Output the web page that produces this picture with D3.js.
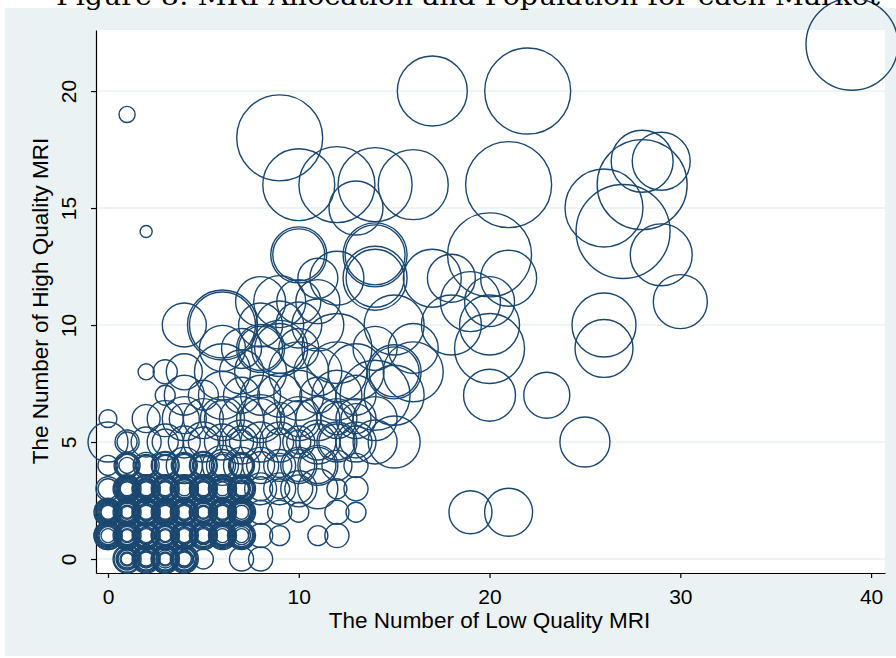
<!DOCTYPE html>
<html>
<head>
<meta charset="utf-8">
<script src="https://cdn.jsdelivr.net/npm/d3@7"></script>
<style>
  body { margin: 0; background: #fff; }
  svg { display: block; }
</style>
</head>
<body>
<script>
// Markets: low quality MRI count, high quality MRI count, population (thousands).
// Grouped by row of the chart so the three lists line up.
var lowQuality = [
  39,1,2,17,22,9,10,12,14,16,13,21,26,27,28,29,28,29,30,26,26,21,20,20,19,20,20,18,18,17,16,20,23,25,19,21,
  10,10,14,14,11,12,14,14,8,9,10,11,
  4,6,6,8,9,10,11,15,
  6,7,8,8,9,9,10,12,14,
  2,3,4,6,7,8,10,11,12,13,15,15,16,
  3,4,5,6,7,8,9,10,12,13,14,15,11,
  0,2,3,4,5,6,7,8,9,11,13,13,14,10,12,
  0,1,1,2,3,4,5,6,7,8,9,10,10,11,12,14,15,13,7,
  0,1,2,3,4,5,6,7,8,9,10,11,11,12,13,1,3,5,7,
  0,0,1,1,1,2,2,2,3,3,4,4,5,5,6,6,7,7,8,9,10,13,12,
  0,0,0,1,1,1,2,2,2,3,3,3,4,4,5,5,5,6,6,7,7,8,9,10,12,13,
  0,0,0,1,1,1,2,2,3,3,3,4,4,5,5,6,6,7,8,9,11,12,
  1,1,2,2,3,3,3,4,4,5,7,8,
  // dense small markets
  1,1,1,2,2,2,3,3,3,4,4,4,
  0,0,0,1,1,1,2,2,2,3,3,3,4,4,4,5,5,5,6,6,6,7,7,7,
  0,0,0,1,1,1,2,2,2,3,3,3,4,4,4,5,5,5,6,6,6,7,7,7,
  1,1,1,2,2,2,3,3,3,4,4,4,5,5,5,6,6,6,7,7,7,
  1,1,2,2,3,3,4,4,5,5,6,6,7,7,
  4,6,8,9,10,3,5,7,9,11,12,13,4,6,8,10,12,8,9,10,11,
  1,1,2,2,3,3,4,4,
  0,0,1,1,2,2,3,3,4,4,5,5,6,6,7,7,
  0,0,1,1,2,2,3,3,4,4,5,5,6,6,7,7,
  1,1,2,2,3,3,4,4,5,5,6,6,7,7
];
var highQuality = [
  22,19,14,20,20,18,16,16,16,16,15,16,15,14,17,17,16,13,11,10,9,12,13,11,11,10,9,10,12,12,9,7,7,5,2,2,
  13,13,13,13,12,12,12,12,11,11,11,11,
  10,10,10,10,10,10,10,10,
  9,9,9,9,9,9,9,9,9,
  8,8,8,8,8,8,8,8,8,8,8,8,8,
  7,7,7,7,7,7,7,7,7,7,7,7,7,
  6,6,6,6,6,6,6,6,6,6,6,6,6,6,6,
  5,5,5,5,5,5,5,5,5,5,5,5,5,5,5,5,5,5,5,
  4,4,4,4,4,4,4,4,4,4,4,4,4,4,4,4,4,4,4,
  3,3,3,3,3,3,3,3,3,3,3,3,3,3,3,3,3,3,3,3,3,3,3,
  2,2,2,2,2,2,2,2,2,2,2,2,2,2,2,2,2,2,2,2,2,2,2,2,2,2,
  1,1,1,1,1,1,1,1,1,1,1,1,1,1,1,1,1,1,1,1,1,1,
  0,0,0,0,0,0,0,0,0,0,0,0,
  0,0,0,0,0,0,0,0,0,0,0,0,
  1,1,1,1,1,1,1,1,1,1,1,1,1,1,1,1,1,1,1,1,1,1,1,1,
  2,2,2,2,2,2,2,2,2,2,2,2,2,2,2,2,2,2,2,2,2,2,2,2,
  3,3,3,3,3,3,3,3,3,3,3,3,3,3,3,3,3,3,3,3,3,
  4,4,4,4,4,4,4,4,4,4,4,4,4,4,
  4,4,4,4,4,5,5,5,5,5,5,5,6,6,6,6,6,3,3,3,3,
  0,0,0,0,0,0,0,0,
  1,1,1,1,1,1,1,1,1,1,1,1,1,1,1,1,
  2,2,2,2,2,2,2,2,2,2,2,2,2,2,2,2,
  3,3,3,3,3,3,3,3,3,3,3,3,3,3
];
var population = [
  8460,260,145,4900,7400,7400,5180,5780,5480,4900,2920,7400,6080,8840,3840,3360,8100,3840,2920,4100,3360,3140,7060,2500,3600,3600,4900,3600,2300,3360,2500,2700,2120,2500,1850,2300,
  3140,2700,4100,3600,1600,2920,4100,3360,2500,2700,1940,1940,
  1940,4900,4360,1940,2300,2120,2700,3600,
  2120,1600,2300,1940,3140,2500,1600,4900,1940,
  260,580,1300,3140,1940,2700,3600,2300,3600,3140,2920,2500,3600,
  400,1600,900,2300,1300,1600,1940,2500,2500,1600,4900,3600,1300,
  320,780,1300,900,1600,1300,1940,1600,1020,1940,1600,900,1940,1300,1020,
  1600,580,400,900,680,1020,900,1300,1020,1600,780,1020,580,1300,1600,1940,2700,1020,580,
  400,580,400,780,580,780,1020,1300,780,580,1020,1600,1300,900,580,260,400,400,580,
  400,580,260,400,580,260,400,780,260,580,400,780,260,580,400,780,260,580,580,400,780,580,400,
  260,400,580,145,400,580,260,580,780,260,400,580,260,580,145,400,780,260,580,400,580,580,580,400,580,400,
  400,580,780,145,400,580,260,580,145,400,780,260,580,260,580,400,580,580,580,400,400,580,
  145,400,260,580,145,580,780,260,580,400,580,580,
  324,484,676,324,484,676,324,484,676,324,484,676,
  324,484,676,324,484,676,324,484,676,324,484,676,324,484,676,324,484,676,324,484,676,324,484,676,
  324,484,676,324,484,676,324,484,676,324,484,676,324,484,676,324,484,676,324,484,676,324,484,676,
  324,484,676,324,484,676,324,484,676,324,484,676,324,484,676,324,484,676,324,484,676,
  484,676,484,676,484,676,484,676,484,676,484,676,484,676,
  1300,1600,1300,1020,1300,1300,1600,1940,1600,1940,1300,1600,1940,1940,2300,1940,1600,1020,1020,1300,1600,
  196,784,196,784,196,784,196,784,
  196,784,196,784,196,784,196,784,196,784,196,784,196,784,196,784,
  196,784,196,784,196,784,196,784,196,784,196,784,196,784,196,784,
  196,784,196,784,196,784,196,784,196,784,196,784,196,784
];
var xTicks = [0, 10, 20, 30, 40];
var yTicks = [0, 5, 10, 15, 20];

var titleText = "Figure 8: MRI Allocation and Population for each Market";
var xTitle = "The Number of Low Quality MRI";
var yTitle = "The Number of High Quality MRI";

var W = 896, H = 658;
var plot = {left: 96, right: 885, top: 30, bottom: 573};
var navy = "#1a476f";

var markets = lowQuality.map(function (d, i) {
    return {low: d, high: highQuality[i], pop: population[i]};
}).sort(function (a, b) { return b.pop - a.pop; });

var x = d3.scaleLinear().domain([-0.629, 40.73]).range([plot.left, plot.right]);
var y = d3.scaleLinear().domain([-0.598, 22.61]).range([plot.bottom, plot.top]);
var r = d3.scaleSqrt().domain([0, d3.max(population)]).range([0, 47]);

var svg = d3.select("body").append("svg")
    .attr("width", W)
    .attr("height", H);

// graph region and plot region
svg.append("rect")
    .attr("x", 5).attr("y", 8)
    .attr("width", W - 5).attr("height", H - 10)
    .attr("fill", "#eaf2f3");

svg.append("rect")
    .attr("x", plot.left).attr("y", plot.top)
    .attr("width", plot.right - plot.left).attr("height", plot.bottom - plot.top)
    .attr("fill", "#fff");

// horizontal grid
svg.append("g")
    .selectAll("line")
    .data(yTicks)
    .enter().append("line")
    .attr("x1", plot.left).attr("x2", plot.right)
    .attr("y1", function (d) { return y(d); })
    .attr("y2", function (d) { return y(d); })
    .attr("stroke", "#e8eff1")
    .attr("stroke-width", 1.6);

// axes
var xAxis = d3.axisBottom(x).tickValues(xTicks).tickSize(5).tickSizeOuter(0);
var yAxis = d3.axisLeft(y).tickValues(yTicks).tickSize(5).tickSizeOuter(0);

var gx = svg.append("g")
    .attr("transform", "translate(0," + plot.bottom + ")")
    .call(xAxis);
gx.selectAll("text")
    .attr("y", 31).attr("dy", 0)
    .style("font-family", "'Liberation Sans', Arial, sans-serif")
    .style("font-size", "21px")
    .attr("fill", "#000");

var gy = svg.append("g")
    .attr("transform", "translate(" + plot.left + ",0)")
    .call(yAxis);
gy.selectAll("text")
    .attr("x", 0).attr("y", -20).attr("dy", 0)
    .attr("transform", "rotate(-90)")
    .style("text-anchor", "middle")
    .style("font-family", "'Liberation Sans', Arial, sans-serif")
    .style("font-size", "21px")
    .attr("fill", "#000");

svg.selectAll(".domain, .tick line")
    .attr("stroke", "#000")
    .attr("stroke-width", 1.2);

// bubbles weighted by population
svg.append("g")
    .selectAll("circle")
    .data(markets)
    .enter().append("circle")
    .attr("cx", function (d) { return x(d.low); })
    .attr("cy", function (d) { return y(d.high); })
    .attr("r", function (d) { return r(d.pop); })
    .attr("fill", "none")
    .attr("stroke", navy)
    .attr("stroke-width", 1.4);

// axis titles
svg.append("text")
    .attr("x", x(20)).attr("y", 628)
    .attr("text-anchor", "middle")
    .style("font-family", "'Liberation Sans', Arial, sans-serif")
    .style("font-size", "22.5px")
    .text(xTitle);

svg.append("text")
    .attr("transform", "translate(48," + 301 + ") rotate(-90)")
    .attr("text-anchor", "middle")
    .style("font-family", "'Liberation Sans', Arial, sans-serif")
    .style("font-size", "22.5px")
    .text(yTitle);

// document caption, cut off by the top of the page as in the source
svg.append("text")
    .attr("x", 468).attr("y", 5)
    .attr("text-anchor", "middle")
    .attr("textLength", 824)
    .attr("lengthAdjust", "spacingAndGlyphs")
    .style("font-family", "'DejaVu Serif', 'Liberation Serif', serif")
    .style("font-size", "26px")
    .text(titleText);
</script>
</body>
</html>
